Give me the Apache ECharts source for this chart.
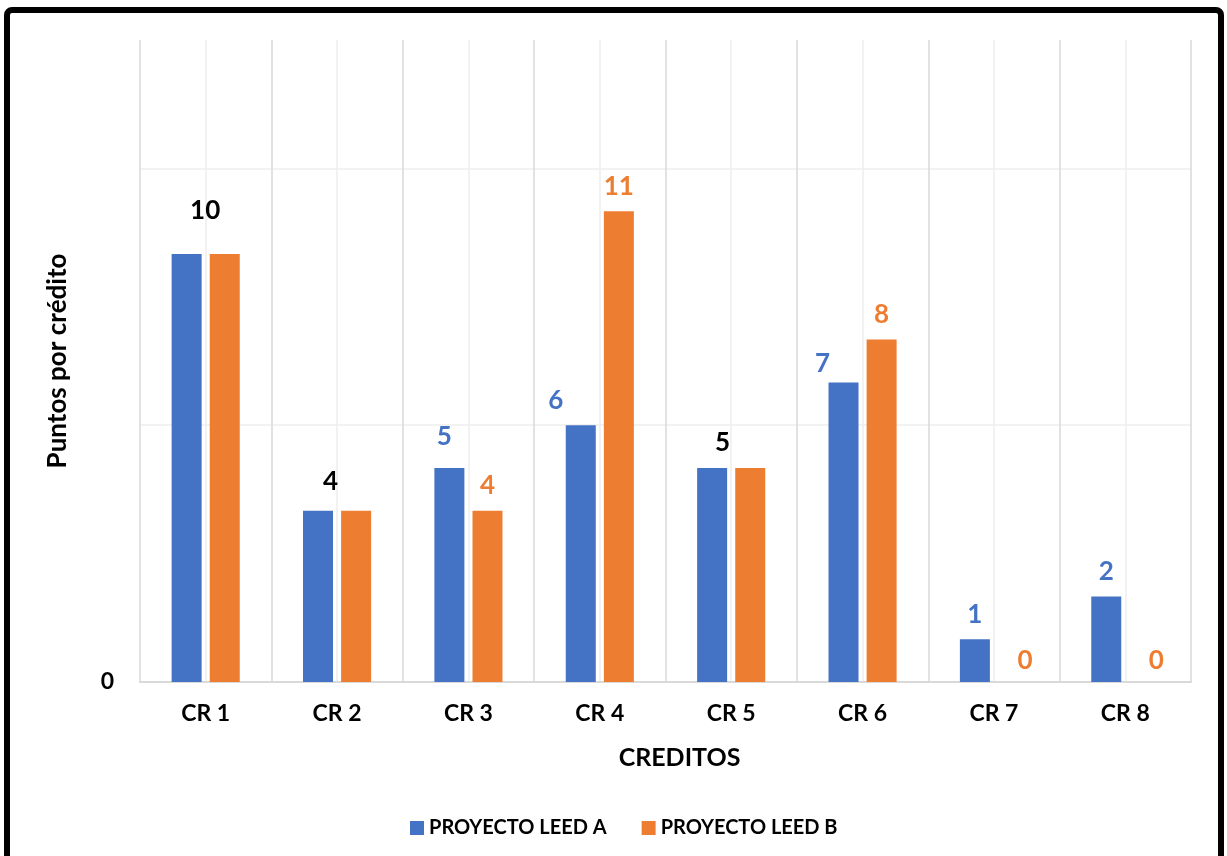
<!DOCTYPE html>
<html>
<head>
<meta charset="utf-8">
<script src="https://cdn.jsdelivr.net/npm/echarts@6/dist/echarts.min.js"></script>
<style>
html,body{margin:0;padding:0;background:#fff;}
#chart{width:1227px;height:856px;}
</style>
</head>
<body>
<div id="chart"></div>
<script>
// ---- data ----
const categories = ['CR 1', 'CR 2', 'CR 3', 'CR 4', 'CR 5', 'CR 6', 'CR 7', 'CR 8'];
const seriesNames = ['PROYECTO LEED A', 'PROYECTO LEED B'];
const valuesA = [10, 4, 5, 6, 5, 7, 1, 2];
const valuesB = [10, 4, 4, 11, 5, 8, 0, 0];
const yTickLabels = ['0'];

// ---- style ----
const BLUE = '#4472C4';
const ORANGE = '#ED7D31';
const FONT = 'Lato';

// manual label nudges (as in the original, some labels were moved by hand)
const nudgeA = {0: [0, -18], 1: [-6, -4], 2: [-5, -6], 3: [-25, 0], 4: [-8, 0], 5: [-21, 6]};
const nudgeB = {6: [12, 4], 7: [12, 4]};

const labelBase = {
  show: true, position: 'top', distance: 12,
  fontFamily: FONT, fontWeight: 'bold', fontSize: 26
};

const dataA = valuesA.map((v, i) => {
  const same = v === valuesB[i];
  const n = nudgeA[i] || [0, 0];
  return {
    value: v,
    label: Object.assign({}, labelBase, {
      color: same ? '#000000' : BLUE,
      offset: [(same ? 18.5 : 0) + n[0], n[1]]
    })
  };
});
const dataB = valuesB.map((v, i) => {
  const same = v === valuesA[i];
  const n = nudgeB[i] || [0, 0];
  return {
    value: v,
    label: Object.assign({}, labelBase, {
      show: !same,
      color: ORANGE,
      offset: n
    })
  };
});

const chart = echarts.init(document.getElementById('chart'), null, {renderer: 'canvas'});
chart.setOption({
  animation: false,
  backgroundColor: '#ffffff',
  textStyle: {fontFamily: FONT},
  graphic: [{
    type: 'rect',
    shape: {x: 7, y: 10, width: 1214, height: 900, r: 5},
    style: {fill: 'none', stroke: '#000', lineWidth: 6},
    z: 100
  }],
  legend: {
    data: seriesNames,
    left: 405,
    top: 813,
    icon: 'rect',
    itemWidth: 14,
    itemHeight: 14,
    itemGap: 35,
    textStyle: {fontFamily: FONT, fontWeight: 'bold', fontSize: 20, color: '#000'}
  },
  grid: {left: 140, right: 36, top: 40, bottom: 174, containLabel: false},
  xAxis: [{
    type: 'category',
    data: categories,
    axisLine: {lineStyle: {color: '#d9d9d9', width: 2}},
    axisTick: {show: false},
    splitLine: {show: false},
    axisLabel: {margin: 20, color: '#000', fontFamily: FONT, fontWeight: 'bold', fontSize: 23},
    name: 'CREDITOS',
    nameLocation: 'middle',
    nameGap: 63,
    nameTextStyle: {color: '#000', fontFamily: FONT, fontWeight: 'bold', fontSize: 25, padding: [0, 0, 0, 28]}
  }, {
    type: 'value',
    position: 'top',
    min: 0, max: 16, interval: 1,
    axisLine: {show: false},
    axisTick: {show: false},
    axisLabel: {show: false},
    splitLine: {show: true, lineStyle: {color: ['#d9d9d9', '#eeeeee'], width: 1.5}}
  }],
  yAxis: {
    type: 'value',
    min: 0, max: 15, interval: 6,
    axisLine: {show: false},
    axisTick: {show: false},
    splitLine: {show: true, showMaxLine: false, lineStyle: {color: '#eeeeee', width: 1.5}},
    axisLabel: {
      margin: 26, color: '#000', fontFamily: FONT, fontWeight: 'bold', fontSize: 23,
      formatter: (v) => (yTickLabels.indexOf(String(v)) >= 0 ? String(v) : '')
    },
    name: 'Puntos por crédito',
    nameLocation: 'middle',
    nameGap: 69,
    nameTextStyle: {color: '#000', fontFamily: FONT, fontWeight: 'bold', fontSize: 26}
  },
  series: [{
    name: seriesNames[0],
    type: 'bar',
    xAxisIndex: 0,
    barWidth: 30,
    barGap: '27%',
    itemStyle: {color: BLUE},
    data: dataA,
    z: 3
  }, {
    name: seriesNames[1],
    type: 'bar',
    xAxisIndex: 0,
    barWidth: 30,
    barGap: '27%',
    itemStyle: {color: ORANGE},
    data: dataB,
    z: 3
  }]
});
</script>
</body>
</html>
